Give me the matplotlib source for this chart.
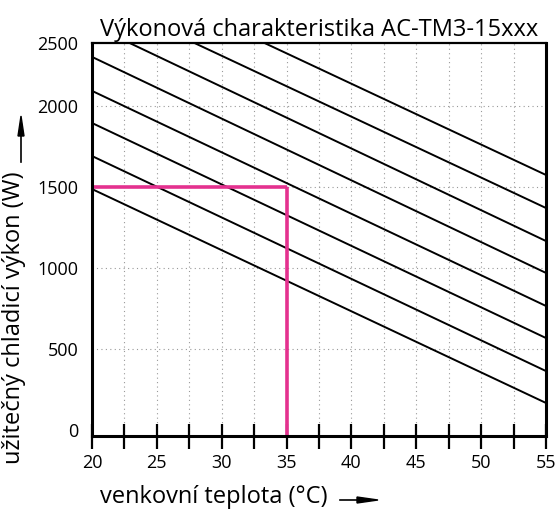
import numpy as np
import matplotlib
matplotlib.use("Agg")
import matplotlib.pyplot as plt
from matplotlib.ticker import MultipleLocator
from matplotlib.lines import Line2D
from matplotlib.patches import Polygon

plt.rcParams['font.family'] = ['Open Sans', 'DejaVu Sans']

TITLE = "Výkonová charakteristika AC-TM3-15xxx"
X_LABEL = "venkovní teplota (°C)"
Y_LABEL = "užitečný chladicí výkon (W)"

X_MIN, X_MAX = 20, 55
Y_MIN, Y_MAX = -37, 2500
Y_TICKS = [0, 500, 1000, 1500, 2000, 2500]

# characteristic lines (start / end points, W)
line_x0 = [20, 20, 20, 20, 20, 22.9, 27.9, 33.3]
line_y0 = [1488, 1692, 1896, 2121, 2390, 2500, 2500, 2500]
line_x1 = [55, 55, 55, 55, 55, 55, 55, 55]
line_y1 = [167, 364, 568, 766, 970, 1167, 1371, 1575]

# operating point
op_temp = 35
op_power = 1500

# top interval of the original axis is drawn shorter than the others
TOP_SQUEEZE = 0.78

def fwd(v):
    v = np.asarray(v, dtype=float)
    return np.where(v > 2000, 2000 + (v - 2000) * TOP_SQUEEZE, v)

def inv(u):
    u = np.asarray(u, dtype=float)
    return np.where(u > 2000, 2000 + (u - 2000) / TOP_SQUEEZE, u)

W, H = 557, 516
fig = plt.figure(figsize=(W / 100, H / 100), dpi=100)
ax = fig.add_axes([92/W, 80/H, 454/W, 393/H])
ax.set_yscale('function', functions=(fwd, inv))

for x0, y0, x1, y1 in zip(line_x0, line_y0, line_x1, line_y1):
    ax.plot([x0, x1], [y0, y1], color='black', lw=1.4, solid_capstyle='butt')

magenta = '#E4318F'
ax.plot([X_MIN, op_temp], [op_power, op_power], color=magenta, lw=2.6, solid_capstyle='butt')
ax.plot([op_temp, op_temp], [op_power, Y_MIN], color=magenta, lw=2.6, solid_capstyle='butt')

ax.set_xlim(X_MIN, X_MAX)
ax.set_ylim(Y_MIN, Y_MAX)
ax.set_yticks(Y_TICKS)
ax.set_yticklabels([str(t) for t in Y_TICKS])
ax.xaxis.set_major_locator(MultipleLocator(5))
ax.xaxis.set_minor_locator(MultipleLocator(2.5))

ax.tick_params(axis='x', which='both', direction='inout', length=18, width=1.6,
               labelsize=13, pad=4)
ax.tick_params(axis='y', length=0, labelsize=13, pad=10)

ax.grid(axis='x', which='both', linestyle=(0, (1, 3)), color='#999999', lw=0.8)
ax.grid(axis='y', which='major', linestyle=(0, (1, 3)), color='#999999', lw=0.8)
for i, gl in enumerate(ax.yaxis.get_gridlines()):
    if Y_TICKS[i] in (0, 2500):
        gl.set_visible(False)

for side in ['left', 'bottom', 'right']:
    ax.spines[side].set_linewidth(2.2)
ax.spines['top'].set_linewidth(1.6)

ax.set_title(TITLE, fontsize=17, pad=5)

fig.text(214/W, 1 - 497/H, X_LABEL, fontsize=17, ha='center', va='center')
fig.text(14/W, 1 - 318/H, Y_LABEL, fontsize=17, ha='center', va='center',
         rotation=90)

# arrows next to the axis labels (pixel coords, y from top)
def px(x, y):
    return (x / W, 1 - y / H)

fig.lines.append(Line2D(*zip(px(340, 500), px(360, 500)), transform=fig.transFigure,
                        color='black', lw=1.2))
fig.patches.append(Polygon([px(357, 497), px(378, 500), px(357, 503)], closed=True,
                           transform=fig.transFigure, color='black'))
fig.lines.append(Line2D(*zip(px(21, 162), px(21, 133)), transform=fig.transFigure,
                        color='black', lw=1.2))
fig.patches.append(Polygon([px(18, 136), px(21, 116), px(24, 136)], closed=True,
                           transform=fig.transFigure, color='black'))

fig.savefig('out.png', dpi=100)
